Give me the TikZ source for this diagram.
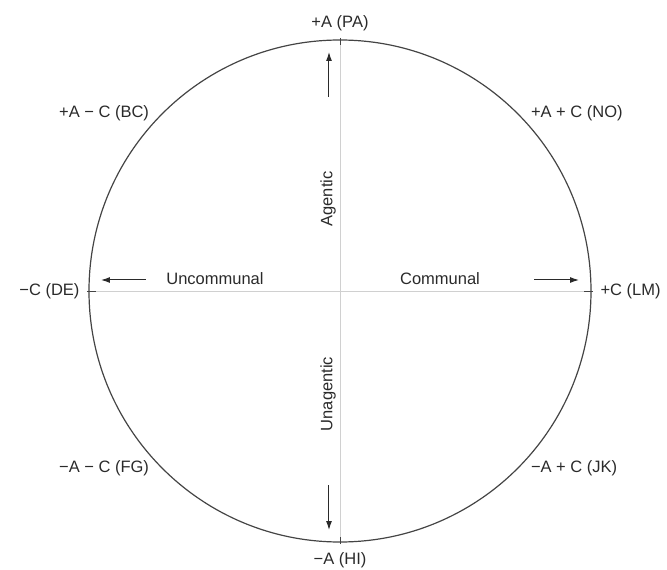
\documentclass[tikz,border=0pt]{standalone}
\usepackage{fontspec}
\setmainfont{Liberation Sans}
\usetikzlibrary{calc, arrows.meta}

\begin{document}
\begin{tikzpicture}[x=1pt, y=1pt, font=\fontsize{16.5}{19}\selectfont]
    \definecolor{circleColour}{HTML}{444444}
    \definecolor{axisColour}{HTML}{D0D0D0}
    \definecolor{textColour}{HTML}{2A2A2A}

    \def\radius{251}
    \def\arrowStart{194}
    \def\arrowEnd{239}
    \coordinate (O) at (0,0); % Centre of the circumplex

    \useasboundingbox (-340,-279) rectangle (327,291);

    % Points where the axes and diagonals meet the circle
    \coordinate (PA) at (90:\radius);
    \coordinate (HI) at (270:\radius);
    \coordinate (DE) at (180:\radius);
    \coordinate (LM) at (0:\radius);
    \coordinate (BC) at (135:\radius);
    \coordinate (NO) at (45:\radius);
    \coordinate (FG) at (225:\radius);
    \coordinate (JK) at (315:\radius);

    % Draw axes
    \draw[axisColour, thin] (DE) -- (LM);
    \draw[axisColour, thin] (HI) -- (PA);

    % Draw the circle
    \draw[circleColour, line width=1.2pt] (O) circle (\radius);

    % Ticks at the ends of the axes
    \draw[circleColour] ($(PA)+(0,2)$) -- ($(PA)+(0,-5)$);
    \draw[circleColour] ($(HI)+(0,-2)$) -- ($(HI)+(0,5)$);
    \draw[circleColour] ($(DE)+(-2,0)$) -- ($(DE)+(7,0)$);
    \draw[circleColour] ($(LM)+(2,0)$) -- ($(LM)+(-7,0)$);

    % Draw the direction arrows
    \coordinate (upTail) at (-11,\arrowStart);
    \coordinate (upHead) at (-11,\arrowEnd);
    \coordinate (downTail) at (-11,-\arrowStart);
    \coordinate (downHead) at (-11,-\arrowEnd);
    \coordinate (leftTail) at (-\arrowStart,11);
    \coordinate (leftHead) at (-\arrowEnd,11);
    \coordinate (rightTail) at (\arrowStart,11);
    \coordinate (rightHead) at (\arrowEnd,11);
    \draw[textColour, line width=1pt, -{Latex[length=9pt, width=6pt]}] (upTail) -- (upHead);
    \draw[textColour, line width=1pt, -{Latex[length=9pt, width=6pt]}] (downTail) -- (downHead);
    \draw[textColour, line width=1pt, -{Latex[length=9pt, width=6pt]}] (leftTail) -- (leftHead);
    \draw[textColour, line width=1pt, -{Latex[length=9pt, width=6pt]}] (rightTail) -- (rightHead);

    % Axis names
    \node[textColour, rotate=90] (agentic) at (-12,92) {Agentic};
    \node[textColour, rotate=90] (unagentic) at (-12,-103) {Unagentic};
    \node[textColour] (uncommunal) at (-125,12) {Uncommunal};
    \node[textColour] (communal) at (100,12) {Communal};

    % Octant labels
    \node[textColour] (labelPA) at ($(PA)+(0,17)$) {+A (PA)};
    \node[textColour] (labelHI) at ($(HI)+(0,-18)$) {−A (HI)};
    \node[textColour, anchor=east] (labelDE) at ($(DE)+(-6,0)$) {−C (DE)};
    \node[textColour, anchor=west] (labelLM) at ($(LM)+(6,0)$) {+C (LM)};
    \node[textColour, anchor=east] (labelBC) at ($(BC)+(-10,0)$) {+A − C (BC)};
    \node[textColour, anchor=west] (labelNO) at ($(NO)+(10,0)$) {+A + C (NO)};
    \node[textColour, anchor=east] (labelFG) at ($(FG)+(-10,0)$) {−A − C (FG)};
    \node[textColour, anchor=west] (labelJK) at ($(JK)+(10,0)$) {−A + C (JK)};

\end{tikzpicture}
\end{document}
